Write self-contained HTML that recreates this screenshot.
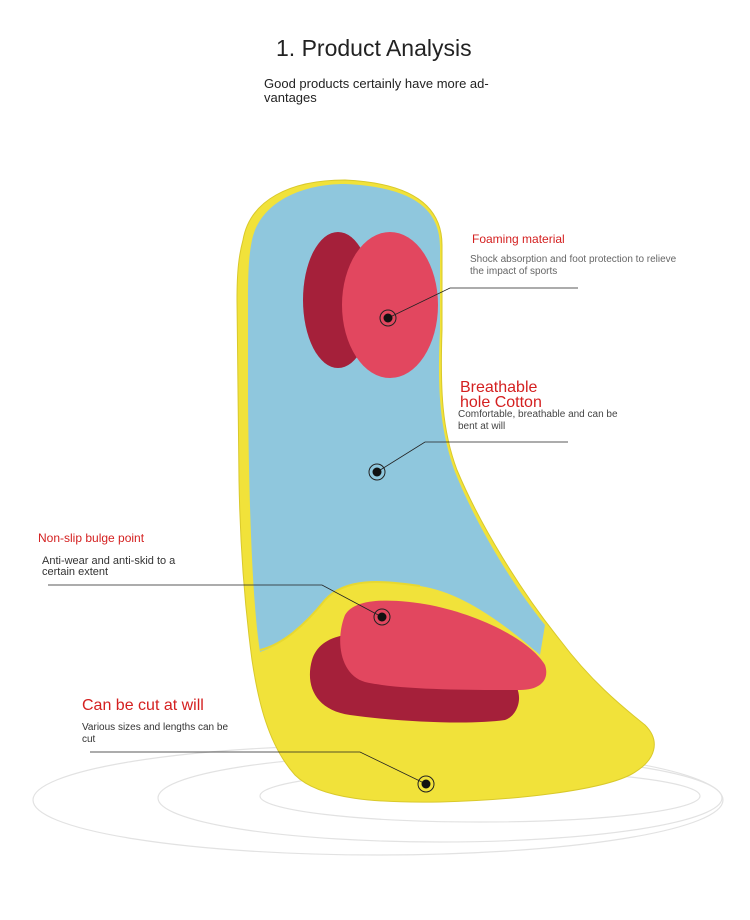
<!DOCTYPE html>
<html><head><meta charset="utf-8"><style>
html,body{margin:0;padding:0;background:#fff;}
body{width:750px;height:920px;position:relative;overflow:hidden;font-family:"Liberation Sans",sans-serif;}
.t{position:absolute;white-space:nowrap;}
</style></head><body>
<svg width="750" height="920" style="position:absolute;left:0;top:0">
<g fill="none" stroke="#e2e2e2" stroke-width="1.2">
<ellipse cx="378" cy="800" rx="345" ry="55"/>
<ellipse cx="440" cy="798" rx="282" ry="44"/>
<ellipse cx="480" cy="796" rx="220" ry="26"/>
</g>
<path d="M243,240 C250,200 290,180 345,180 C410,183 442,205 442,245 L442,330 C440,390 442,430 457,470 C480,525 520,590 560,640 C590,680 620,705 645,725 C660,740 658,760 630,775 C600,790 520,800 440,802 C380,803 320,800 295,775 C268,745 258,700 252,660 C244,600 240,540 239,480 L237,300 C237,270 239,255 243,240 Z" fill="#f1e23a" stroke="#d9c92a"/>
<path d="M252,240 C260,203 300,184 345,184 C410,187 440,207 440,247 L440,330 C437,390 440,430 455,472 C475,522 510,582 545,625 L540,655 C500,620 460,592 420,586 C380,580 345,578 325,600 C305,625 282,645 260,652 C252,600 249,500 248,400 L248,300 C248,270 249,255 252,240 Z" fill="#8fc7dd"/>
<path d="M260,650 C282,645 305,625 325,600 C345,578 380,580 420,586" fill="none" stroke="#e8d830" stroke-width="2"/>
<ellipse cx="338" cy="300" rx="35" ry="68" fill="#a5203a"/>
<ellipse cx="390" cy="305" rx="48" ry="73" fill="#e2475f"/>
<path d="M312,660 C318,640 340,630 380,635 C430,640 480,660 510,680 C525,690 520,715 505,720 C470,725 400,722 350,715 C315,710 305,685 312,660 Z" fill="#a5203a"/>
<path d="M345,615 C355,598 390,598 430,605 C480,615 530,640 545,665 C550,680 540,690 520,690 C470,690 400,690 365,682 C340,675 335,640 345,615 Z" fill="#e2475f"/>
<g fill="none" stroke="#222" stroke-width="0.8">
<path d="M388,318 L450,288 L578,288"/>
<path d="M377,472 L425,442 L568,442"/>
<path d="M382,617 L322,585 L48,585"/>
<path d="M426,784 L360,752 L90,752"/>
</g>
<g>
<circle cx="388" cy="318" r="8" fill="none" stroke="#222" stroke-width="1"/><circle cx="388" cy="318" r="4.5" fill="#111"/>
<circle cx="377" cy="472" r="8" fill="none" stroke="#222" stroke-width="1"/><circle cx="377" cy="472" r="4.5" fill="#111"/>
<circle cx="382" cy="617" r="8" fill="none" stroke="#222" stroke-width="1"/><circle cx="382" cy="617" r="4.5" fill="#111"/>
<circle cx="426" cy="784" r="8" fill="none" stroke="#222" stroke-width="1"/><circle cx="426" cy="784" r="4.5" fill="#111"/>
</g>
</svg>
<div class="t" style="left:276px;top:35px;font-size:23px;color:#222">1. Product Analysis</div>
<div class="t" style="left:264px;top:77px;font-size:13px;color:#222;line-height:14px">Good products certainly have more ad-<br>vantages</div>
<div class="t" style="left:472px;top:232px;font-size:12px;color:#d42020">Foaming material</div>
<div class="t" style="left:470px;top:254px;font-size:10px;color:#666;line-height:12px">Shock absorption and foot protection to relieve<br>the impact of sports</div>
<div class="t" style="left:460px;top:380px;font-size:16px;color:#d42020;line-height:15px">Breathable<br>hole Cotton</div>
<div class="t" style="left:458px;top:409px;font-size:10px;color:#444;line-height:12px">Comfortable, breathable and can be<br>bent at will</div>
<div class="t" style="left:38px;top:531px;font-size:12px;color:#d42020">Non-slip bulge point</div>
<div class="t" style="left:42px;top:556px;font-size:11px;color:#333;line-height:11px">Anti-wear and anti-skid to a<br>certain extent</div>
<div class="t" style="left:82px;top:697px;font-size:16px;color:#d42020">Can be cut at will</div>
<div class="t" style="left:82px;top:722px;font-size:10px;color:#333;line-height:12px">Various sizes and lengths can be<br>cut</div>
</body></html>
